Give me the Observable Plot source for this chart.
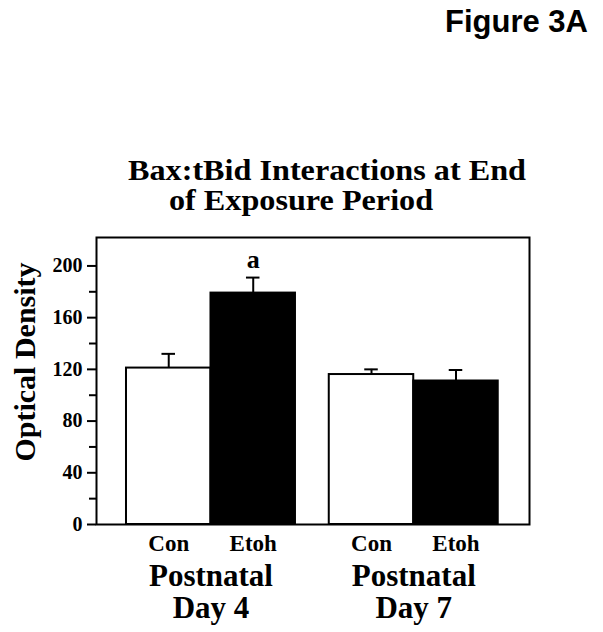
<!DOCTYPE html>
<html>
<head>
<meta charset="utf-8">
<script src="https://cdn.jsdelivr.net/npm/d3@7"></script>
<script src="https://cdn.jsdelivr.net/npm/@observablehq/plot@0.6"></script>
<style>
  body { margin: 0; background: #fff; }
  #wrap { position: relative; width: 603px; height: 632px; overflow: hidden; }
  .t { position: absolute; white-space: nowrap; color: #000; transform-origin: left top; }
  .serif { font-family: "Liberation Serif", "Times New Roman", serif; font-weight: bold; }
  .sans { font-family: "Liberation Sans", Arial, sans-serif; font-weight: bold; }
</style>
</head>
<body>
<div id="wrap">
  <div class="t sans" style="left:445px; top:4px; font-size:31px;">Figure 3A</div>
  <div class="t serif" style="left:128px; top:154px; font-size:29px; transform:scaleX(1.11);">Bax:tBid Interactions at End</div>
  <div class="t serif" style="left:169px; top:184px; font-size:29px; transform:scaleX(1.11);">of Exposure Period</div>
</div>
<script>
// ---- data ----
const days = ["Postnatal\nDay 4", "Postnatal\nDay 7"];
const conditions = ["Con", "Etoh"];
const means = [[121, 179], [116, 111]];      // [day][condition]
const sems  = [[11, 12], [4, 8.5]];
const yTicks = [0, 40, 80, 120, 160, 200];
const yMinorTicks = [20, 60, 100, 140, 180];
const annotations = [{day: 0, cond: 1, label: "a"}];

// ---- layout helpers (x units: bar width = 1, gap between day groups = 0.4) ----
const groupGap = 0.4;
const barLeft = (d, c) => d * (conditions.length + groupGap) + c;

const rows = [];
days.forEach((day, di) => conditions.forEach((cond, ci) => {
  rows.push({day, cond, di, ci, value: means[di][ci], err: sems[di][ci],
             x1: barLeft(di, ci), x2: barLeft(di, ci) + 1, xc: barLeft(di, ci) + 0.5});
}));
const groups = days.map((day, di) => ({day, xc: barLeft(di, 0) + conditions.length / 2}));
const notes = annotations.map(a => {
  const r = rows.find(r => r.di === a.day && r.ci === a.cond);
  return {label: a.label, xc: r.xc, y: r.value + r.err};
});

const capHalf = 0.08;

const chart = Plot.plot({
  width: 603,
  height: 632,
  marginTop: 237,
  marginBottom: 108,
  marginLeft: 96,
  marginRight: 74,
  style: {fontFamily: "'Liberation Serif', 'Times New Roman', serif", fontWeight: "bold", background: "transparent", color: "#000"},
  x: {domain: [-0.355, barLeft(1, 1) + 1 + 0.37], axis: null},
  y: {domain: [0, 222], axis: null},
  marks: [
    // error bars (upward only)
    Plot.ruleX(rows, {x: "xc", y1: "value", y2: d => d.value + d.err, stroke: "#000", strokeWidth: 2}),
    Plot.ruleY(rows, {y: d => d.value + d.err, x1: d => d.xc - capHalf, x2: d => d.xc + capHalf, stroke: "#000", strokeWidth: 2}),
    // bars
    Plot.rectY(rows, {x1: "x1", x2: "x2", y1: 0, y2: "value",
      fill: d => d.ci === 0 ? "#fff" : "#000", stroke: "#000", strokeWidth: 2}),
    // y axis
    Plot.axisY({ticks: yTicks, tickSize: 9, tickPadding: 5, fontSize: 20, label: null, strokeWidth: 2}),
    Plot.axisY({ticks: yMinorTicks, tickSize: 7, tickFormat: () => "", label: null, strokeWidth: 2}),
    Plot.frame({stroke: "#000", strokeWidth: 2}),
    // significance letter
    Plot.text(notes, {x: "xc", y: "y", text: "label", dy: -18, fontSize: 26, fill: "#000"}),
    // condition labels
    Plot.text(rows, {x: "xc", y: 0, text: "cond", dy: 19, fontSize: 23, fill: "#000", lineAnchor: "middle"}),
    // day labels
    Plot.text(groups, {x: "xc", y: 0, text: "day", dy: 67, fontSize: 31, lineHeight: 1.03, lineAnchor: "middle", fill: "#000"}),
    // y label
    Plot.text(["Optical Density"], {frameAnchor: "left", textAnchor: "middle", rotate: -90, dx: -71, dy: -19, fontSize: 30, fill: "#000"})
  ]
});
chart.style.position = "absolute";
chart.style.left = "0";
chart.style.top = "0";
document.getElementById("wrap").prepend(chart);
</script>
</body>
</html>
